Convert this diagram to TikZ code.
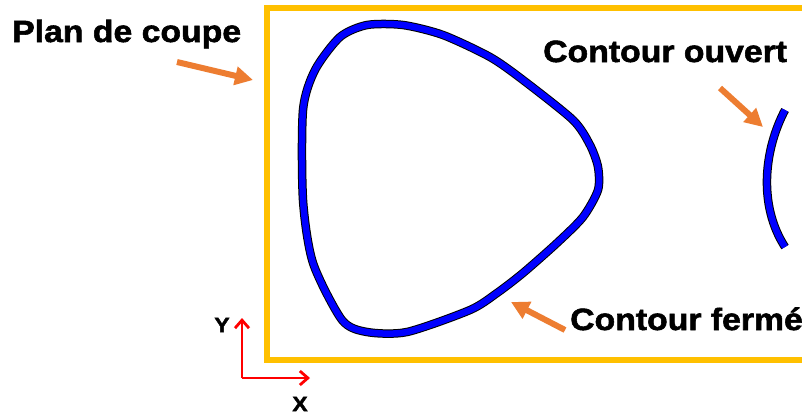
\documentclass[tikz,border=0pt]{standalone}
\usepackage{fontspec}
\usepackage{tikz}
\usetikzlibrary{arrows.meta,positioning,calc}
\newfontfamily\lblfont{Liberation Sans}[UprightFont={* Bold},FakeStretch=1.1,FakeBold=1.8]
\definecolor{cadre}{RGB}{255,192,0}
\definecolor{fleche}{RGB}{237,125,49}
\definecolor{trait}{RGB}{0,0,255}
\definecolor{axe}{RGB}{255,0,0}
\tikzset{
  lbl/.style={font=\lblfont\fontsize{30.7}{36}\selectfont,inner sep=0pt,anchor=base west},
  axlbl/.style={font=\lblfont\fontsize{21}{24}\selectfont,inner sep=0pt},
  frame/.style={draw=cadre,line width=6pt},
  halo/.style={draw=black,line width=8.5pt},
  contour/.style={draw=trait,line width=6.5pt},
  arr/.style={-{Triangle[length=18pt,width=18pt]},fleche,line width=6pt},
  axarr/.style={-{Straight Barb[length=8pt,width=14pt]},axe,line width=2.8pt},
}
\begin{document}
\begin{tikzpicture}[x=1pt,y=-1pt]
  \clip (0,0) rectangle (802,416);
  \fill[white] (0,0) rectangle (802,416);
  % plan de coupe
  \draw[frame] (266.5,8) rectangle (830,360);
  % contour ferme
  \def\fermepts{(367,25) (403,25) (443,35) (490,57) (523,80) (573,120)
    (590,145) (598,167) (598,190) (583,217) (557,243) (523,273) (497,293) (470,310)
    (407,332) (367,332) (342,320) (313,263) (303,200) (303,110) (315,70) (340,37)}
  \draw[halo] plot[smooth cycle,tension=0.45] coordinates {\fermepts};
  \draw[contour] plot[smooth cycle,tension=0.45] coordinates {\fermepts};
  % contour ouvert
  \coordinate (ouvA) at (785,110);
  \coordinate (ouvB) at (785,247);
  \draw[halo] (ouvA) .. controls (764,150) and (758,205) .. (ouvB);
  \draw[contour] (ouvA) .. controls (764,150) and (758,205) .. (ouvB);
  % labels
  \node[lbl] (plan) at (12,42) {Plan de coupe};
  \node[lbl] (ouvert) at (543,62) {Contour ouvert};
  \node[lbl] (ferme) at (570,330) {Contour fermé};
  \coordinate (planQ) at (177,62);
  \coordinate (planT) at (253,80);
  \coordinate (ouvQ) at (720,88);
  \coordinate (ouvT) at (763,127);
  \coordinate (fermQ) at (565,330);
  \coordinate (fermT) at (511,302);
  \draw[arr] (planQ) -- (planT);
  \draw[arr] (ouvQ) -- (ouvT);
  \draw[arr] (fermQ) -- (fermT);
  % repere
  \coordinate (O) at (242,378);
  \coordinate (ytip) at (242,318);
  \coordinate (xtip) at (310,378);
  \draw[axarr] (O) -- (ytip);
  \draw[axarr] (O) -- (xtip);
  \node[axlbl] (ylab) at (222,325) {Y};
  \node[axlbl] (xlab) at (300,404) {X};
\end{tikzpicture}
\end{document}
